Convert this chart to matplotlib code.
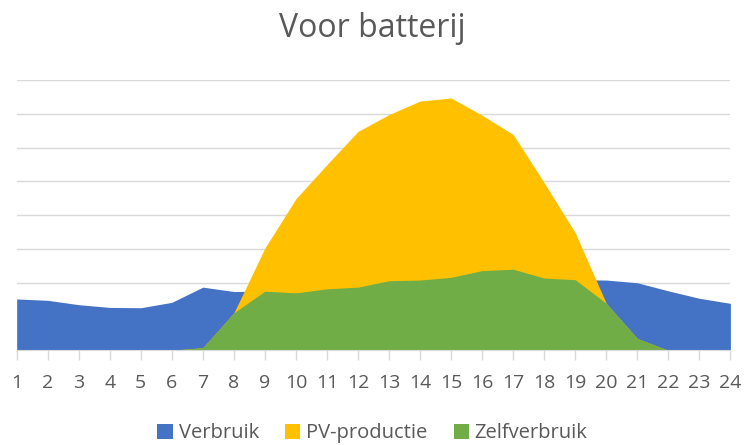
import numpy as np
import matplotlib.pyplot as plt
from matplotlib.patches import Patch

plt.rcParams["font.family"] = ["Open Sans", "DejaVu Sans"]

# hours of the day
uren = np.arange(1, 25)

# consumption, PV production and self-consumption (grid units)
verbruik = [1.52, 1.48, 1.35, 1.27, 1.26, 1.42, 1.87, 1.74, 1.75, 1.70, 1.82, 1.87,
            2.06, 2.08, 2.16, 2.36, 2.40, 2.14, 2.09, 2.08, 2.00, 1.76, 1.54, 1.39]
pv_productie = [0, 0, 0, 0, 0, 0, 0.08, 1.11, 3.03, 4.49, 5.50, 6.48,
                6.98, 7.38, 7.47, 6.96, 6.39, 4.96, 3.48, 1.39, 0.35, 0, 0, 0]
zelfverbruik = [0, 0, 0, 0, 0, 0, 0.08, 1.11, 1.75, 1.70, 1.82, 1.87,
                2.06, 2.08, 2.16, 2.36, 2.40, 2.14, 2.09, 1.39, 0.35, 0, 0, 0]

labels = ["Verbruik", "PV-productie", "Zelfverbruik"]
colors = ["#4472C4", "#FFC000", "#70AD47"]
text_color = "#595959"

fig = plt.figure(figsize=(7.45, 4.45), dpi=100)
ax = fig.add_axes([0.0224, 0.2128, 0.958, 0.6072])

for series, c in zip([verbruik, pv_productie, zelfverbruik], colors):
    ax.fill_between(uren, 0, series, color=c, linewidth=0, zorder=2)

ax.set_xlim(1, 24)
ax.set_ylim(0, 8)
ax.set_xticks(uren)
ax.set_xticklabels([str(u) for u in uren])
ax.set_yticks(np.arange(0, 9))
ax.yaxis.grid(True, color="#D9D9D9", linewidth=1.0, zorder=0)
ax.tick_params(axis="y", length=0, labelleft=False)
ax.tick_params(axis="x", length=7, width=1.0, color="#D9D9D9", labelsize=14,
               labelcolor=text_color, pad=10)
for side in ["top", "right", "left"]:
    ax.spines[side].set_visible(False)
ax.spines["bottom"].set_color("#D9D9D9")
ax.set_axisbelow(True)

fig.text(0.5, 0.937, "Voor batterij", ha="center", va="center",
         fontsize=23, color=text_color)

handles = [Patch(facecolor=c, edgecolor="none") for c in colors]
fig.legend(handles, labels, loc="center", bbox_to_anchor=(0.5, 0.026), ncol=3,
           frameon=False, fontsize=14.5, labelcolor=text_color, handlelength=0.75,
           handleheight=0.75, handletextpad=0.3, columnspacing=1.3,
           borderpad=0.1)

fig.savefig("out.png", dpi=100)
